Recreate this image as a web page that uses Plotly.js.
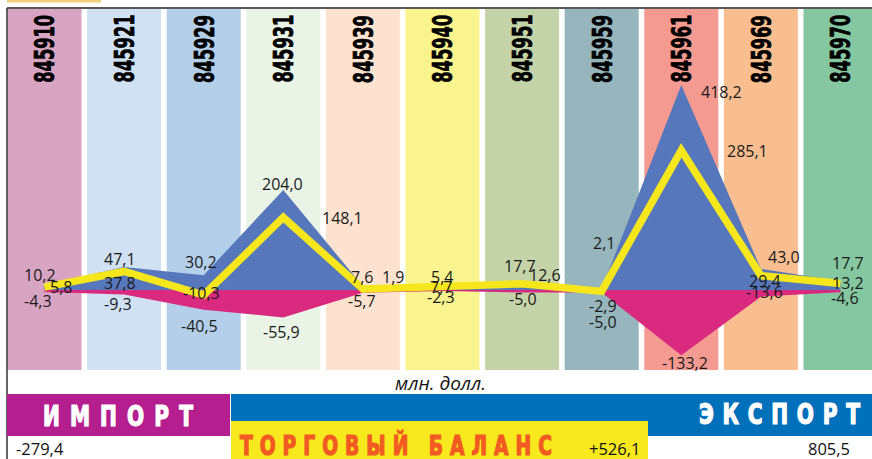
<!DOCTYPE html>
<html><head><meta charset="utf-8">
<script src="https://cdn.plot.ly/plotly-3.0.1.min.js"></script>
<style>html,body{margin:0;padding:0;background:#fff}#chart{width:872px;height:459px}</style>
</head><body><div id="chart"></div>
<script>
// ---- data ----
const categories = ['845910','845921','845929','845931','845939','845940','845951','845959','845961','845969','845970'];
const exportVals  = [10.2, 47.1, 30.2, 204.0, 7.6, 7.7, 17.7, 2.1, 418.2, 43.0, 17.7];
const importVals  = [-4.3, -9.3, -40.5, -55.9, -5.7, -2.3, -5.0, -5.0, -133.2, -13.6, -4.6];
const balanceVals = [5.8, 37.8, -10.3, 148.1, 1.9, 5.4, 12.6, -2.9, 285.1, 29.4, 13.2];
const importTotal = -279.4;
const balanceTotal = 526.1;
const exportTotal = 805.5;
const unitLabel = 'млн. долл.';
const importTitle = 'ИМПОРТ';
const exportTitle = 'ЭКСПОРТ';
const balanceTitle = 'ТОРГОВЫЙ БАЛАНС';

// ---- styles / label placement (pixels) ----
const columnColors = ['#d7a4c2','#cfe1f3','#b4cfe9','#e9f3e6','#fde3cf','#f9f48e','#c5d3a9','#96b5bc','#f59a91','#f9be8f','#85c7a0'];
const expShift = {x:[-4.5,-4,-3,-1,-1,-1.5,-2,2,40,23,7.5], y:[10,8,13,6,9,-1,15,46,-7,12,18]};
const balShift = {x:[16.5,-4,-2,59,30,-0.5,23,1,66,4,7.5], y:[0,-11.5,2,-0.6,12,10.4,9,-14.6,-0.7,-5.4,0.5]};
const impShift = {x:[-6.5,-6,-4,-2,-1,-1.5,1,1,4,4,4.5], y:[-9,-9.4,-16,-14.6,-8.2,-6,-6.5,-29.5,-7.7,4.7,-5.7]};

const W = 872, H = 459, ML = 7, MT = 9, MB = 89;
const px = X => (X - ML) / (W - ML);
const py = Y => ((H - MB) - Y) / (H - MB - MT);
const fmt = v => v.toFixed(1).replace('.', ',');
const xs = categories.map((_, i) => i);

const numFont = {family:'Open Sans, Noto Sans, sans-serif', size:16, color:'#1a1a1a'};
const condBold = 'Liberation Sans Narrow, DejaVu Sans Condensed, Roboto Condensed, sans-serif';

const traces = [
  {x: xs, y: exportVals, type:'scatter', mode:'lines', fill:'tozeroy', fillcolor:'#5677bb', line:{width:0, color:'#5677bb'}, hoverinfo:'skip'},
  {x: xs, y: importVals, type:'scatter', mode:'lines', fill:'tozeroy', fillcolor:'#d92a80', line:{width:0, color:'#d92a80'}, hoverinfo:'skip'},
  {x: xs, y: balanceVals, type:'scatter', mode:'lines', line:{width:7.5, color:'#f6e71c'}, hoverinfo:'skip'}
];

const shapes = [];
categories.forEach((c, i) => shapes.push({type:'rect', xref:'x', yref:'paper', x0:i-0.465, x1:i+0.465, y0:0, y1:1, fillcolor:columnColors[i], line:{width:0}, layer:'below'}));
shapes.push({type:'rect', xref:'paper', yref:'paper', x0:px(7), x1:px(101), y0:py(2.5), y1:py(-2), fillcolor:'#f2d27f', line:{width:0}});
shapes.push({type:'line', xref:'paper', yref:'paper', x0:px(7), x1:px(872), y0:py(8), y1:py(8), line:{width:1.6, color:'#222'}});
shapes.push({type:'line', xref:'paper', yref:'paper', x0:px(7), x1:px(7), y0:py(459), y1:py(8), line:{width:1.5, color:'#333'}});
shapes.push({type:'rect', xref:'paper', yref:'paper', x0:px(7), x1:px(230), y0:py(436), y1:py(394), fillcolor:'#b41e8e', line:{width:0}});
shapes.push({type:'rect', xref:'paper', yref:'paper', x0:px(231), x1:px(872), y0:py(436), y1:py(394), fillcolor:'#0070ba', line:{width:0}});
shapes.push({type:'rect', xref:'paper', yref:'paper', x0:px(231), x1:px(648), y0:py(460), y1:py(421), fillcolor:'#f8e81e', line:{width:0}});

const annotations = [];
const squeezed = [];
categories.forEach((c, i) => {
  squeezed.push({idx: annotations.length, len: 68});
  annotations.push({xref:'x', yref:'paper', x:i, y:py(49), text:'<b>'+c+'</b>', textangle:-90, showarrow:false, xanchor:'center', yanchor:'middle', font:{family:condBold, size:27, color:'#000'}});
});
exportVals.forEach((v, i) => annotations.push({xref:'x', yref:'y', x:i, y:v, text:fmt(v), showarrow:false, xanchor:'center', yanchor:'middle', xshift:expShift.x[i], yshift:expShift.y[i], font:numFont}));
balanceVals.forEach((v, i) => annotations.push({xref:'x', yref:'y', x:i, y:v, text:fmt(v), showarrow:false, xanchor:'center', yanchor:'middle', xshift:balShift.x[i], yshift:balShift.y[i], font:numFont}));
importVals.forEach((v, i) => annotations.push({xref:'x', yref:'y', x:i, y:v, text:fmt(v), showarrow:false, xanchor:'center', yanchor:'middle', xshift:impShift.x[i], yshift:impShift.y[i], font:numFont}));

const plain = (X, Y, text, size, italic) => annotations.push({xref:'paper', yref:'paper', x:px(X), y:py(Y), text: italic ? '<i>'+text+'</i>' : text, showarrow:false, xanchor:'center', yanchor:'middle', font:{family:'Open Sans, sans-serif', size:size, color:'#111'}});
plain(440, 383, unitLabel, 19, true);
plain(40, 449, fmt(importTotal), 16.5);
plain(614, 449, '+'+fmt(balanceTotal), 16.5);
plain(829, 449, fmt(exportTotal), 16.5);

const spaced = [];
function spacedTitle(text, x0, x1, yc, size, color) {
  spaced.push({idx: annotations.length, width: x1 - x0, f: 0.8, color: color});
  annotations.push({xref:'paper', yref:'paper', x:px(x0-2), y:py(yc), text:'<b>'+text+'</b>', align:'left', showarrow:false, xanchor:'left', yanchor:'middle', font:{family:condBold, size:size, color:color}});
}
spacedTitle(importTitle, 43, 193, 416, 28, '#ffffff');
spacedTitle(exportTitle, 699, 860, 415, 28, '#ffffff');
spacedTitle(balanceTitle, 240, 552, 445, 26, '#f15a22');

const layout = {
  width: W, height: H,
  margin: {l: ML, r: 0, t: MT, b: MB, pad: 0},
  paper_bgcolor: '#ffffff', plot_bgcolor: '#ffffff',
  showlegend: false, hovermode: false,
  xaxis: {range: [-0.471, 10.396], visible: false, fixedrange: true},
  yaxis: {range: [-163.3, 573.5], visible: false, fixedrange: true},
  shapes: shapes, annotations: annotations
};

const getText = idx => document.querySelector('.annotation[data-index="' + idx + '"] text.annotation-text');

Plotly.newPlot('chart', traces, layout, {staticPlot: true, displayModeBar: false}).then(() => {
  squeezed.forEach(s => {
    const t = getText(s.idx);
    if (!t) return;
    t.setAttribute('textLength', s.len);
    t.setAttribute('lengthAdjust', 'spacingAndGlyphs');
    t.style.stroke = '#000';
    t.style.strokeWidth = '0.7px';
  });
  spaced.forEach(s => {
    const t = getText(s.idx);
    if (!t) return;
    const n = t.textContent.length;
    const natural = t.getComputedTextLength();
    const ls = (s.width / s.f - natural) / (n - 1);
    t.style.letterSpacing = ls + 'px';
    t.style.stroke = s.color;
    t.style.strokeWidth = '1.2px';
    const x0 = parseFloat(t.getAttribute('x')) || 0;
    t.setAttribute('transform', 'matrix(' + s.f + ',0,0,1,' + (x0 * (1 - s.f)) + ',0)');
  });
});
</script>
</body></html>
